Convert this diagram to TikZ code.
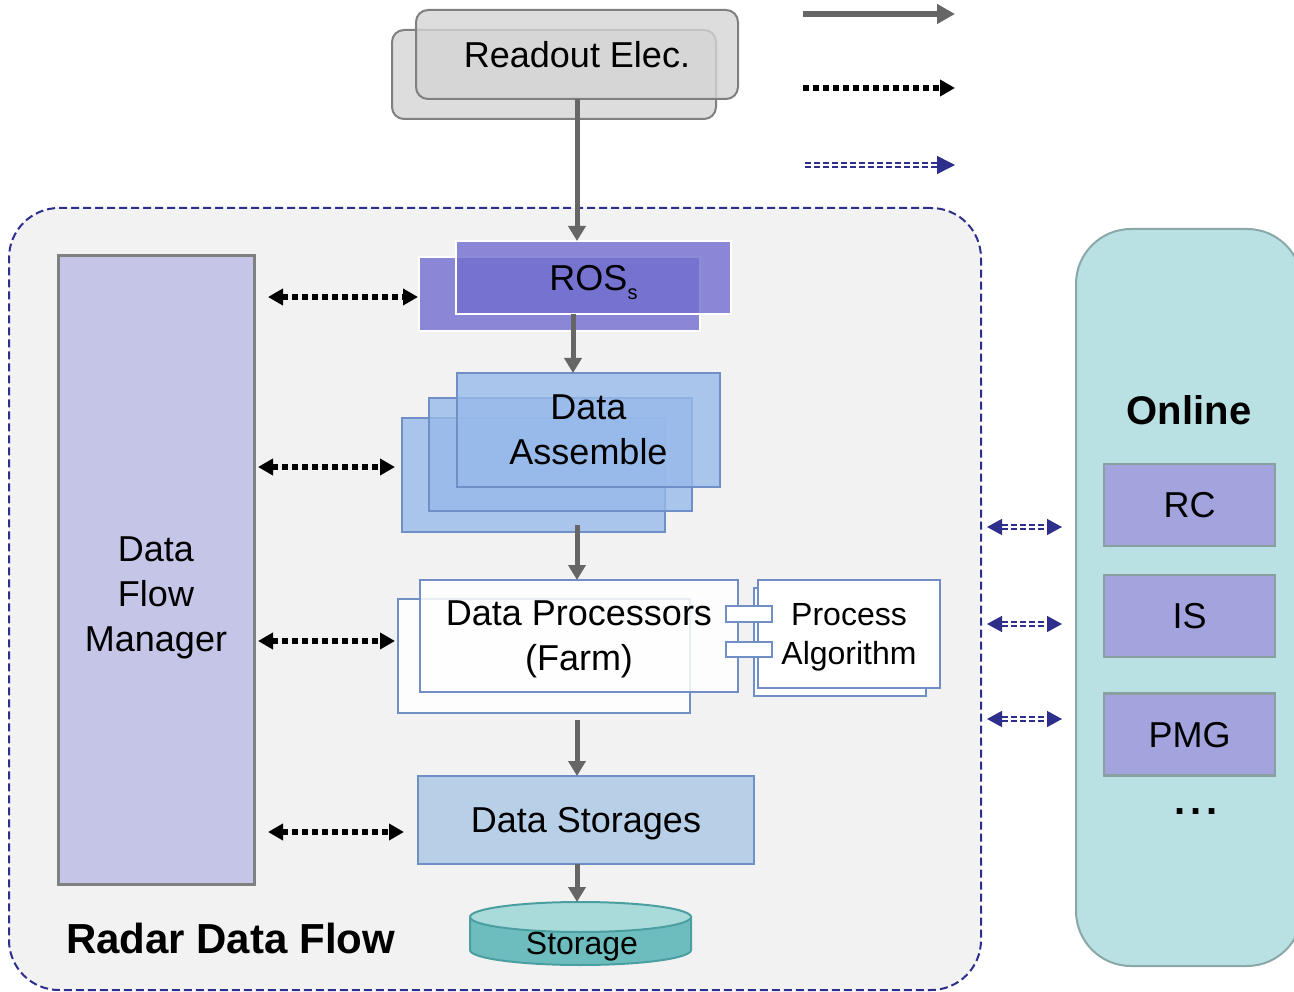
\documentclass[tikz,border=0pt]{standalone}
\usepackage{fontspec}
\setmainfont{Liberation Sans}
\usetikzlibrary{arrows.meta,calc}

\definecolor{navy}{HTML}{2E2E8C}
\definecolor{flowgray}{HTML}{666666}
\definecolor{panelbg}{HTML}{F2F2F2}
\definecolor{rosfill}{HTML}{716ECF}
\definecolor{dafill}{HTML}{98BAEA}
\definecolor{boxedge}{HTML}{6F8FC6}
\definecolor{dfmfill}{HTML}{C5C5E8}
\definecolor{rofill}{HTML}{D4D4D4}
\definecolor{rodraw}{HTML}{808080}
\definecolor{dsfill}{HTML}{B8CFE8}
\definecolor{onlinebg}{HTML}{B9E0E2}
\definecolor{onlineedge}{HTML}{8AA8A8}
\definecolor{onlinebox}{HTML}{A3A3DE}
\definecolor{onlineboxedge}{HTML}{8A9FA0}
\definecolor{cyltop}{HTML}{A9DBDB}
\definecolor{cylbody}{HTML}{6DBDBF}
\definecolor{cyledge}{HTML}{4B9FA0}

\begin{document}
\begin{tikzpicture}[x=1pt, y=-1pt,
  every node/.style={inner sep=0pt, outer sep=0pt},
  txt/.style={font=\fontsize{36}{45}\selectfont, align=center, text=black, text depth=0pt},
  container/.style={draw=navy, fill=panelbg, line width=2pt,
    dash pattern=on 8pt off 4pt, rounded corners=50pt},
  onlinepanel/.style={draw=onlineedge, fill=onlinebg, line width=2pt, rounded corners=55pt},
  obox/.style={txt, draw=onlineboxedge, fill=onlinebox, line width=2.5pt,
    minimum width=171pt, minimum height=82pt},
  dfmbox/.style={draw=rodraw, fill=dfmfill, line width=3pt},
  robox/.style={draw=rodraw, fill=rofill, fill opacity=0.8, text opacity=1,
    line width=2pt, rounded corners=12pt},
  rosbox/.style={draw=white, fill=rosfill, fill opacity=0.8, text opacity=1, line width=2pt},
  dabox/.style={draw=boxedge, fill=dafill, fill opacity=0.8, text opacity=1, line width=2pt},
  dpbox/.style={draw=boxedge, fill=white, fill opacity=0.85, text opacity=1, line width=2pt},
  pabox/.style={draw=boxedge, fill=white, line width=2pt},
  dsbox/.style={draw=boxedge, fill=dsfill, line width=2pt},
  cyl/.style={draw=cyledge, line width=2pt},
  flow/.style={draw=flowgray, line width=5pt, -{Triangle[length=15pt,width=17pt]}},
  flowwide/.style={draw=flowgray, line width=6pt, -{Triangle[length=18pt,width=19pt]}},
  ctrl/.style={draw=black, line width=5.5pt, dash pattern=on 6pt off 4pt,
    >={Triangle[length=15pt,width=16pt]}},
  blink/.style={draw=navy, line width=1.4pt, double=white, double distance=2.4pt,
    dash pattern=on 6pt off 3pt, >={Triangle[length=15pt,width=16pt]}}
]
\useasboundingbox (0,0) rectangle (1294,992);
\clip (0,0) rectangle (1294,992);

% main data-flow frame and the online panel
\node[container, minimum width=972pt, minimum height=782pt] (rdf) at (495,599) {};
\node[onlinepanel, minimum width=226pt, minimum height=737pt] (onl) at (1189,597.5) {};

% online services
\node[txt, font=\fontsize{40}{48}\selectfont\bfseries] (onltitle) at (1189,410) {Online};
\node[obox] (rc) at (1189.5,505) {RC};
\node[obox] (is) at (1189.5,616) {IS};
\node[obox] (pmg) at (1189.5,734.5) {PMG};
\node[txt, font=\fontsize{40}{48}\selectfont\bfseries] (more) at (1196,812) {.\hspace{5pt}.\hspace{5pt}.};

% data flow manager
\node[dfmbox, minimum width=196pt, minimum height=628pt] (dfm) at (156,570) {};
\node[txt] (dfmtext) at (156,594) {Data\\Flow\\Manager};

% readout electronics
\node[robox, minimum width=324pt, minimum height=89pt] (ro2) at (554,74.5) {};
\node[robox, txt, minimum width=322pt, minimum height=89pt] (ro) at (577,54.5) {Readout Elec.};

% readout systems
\node[rosbox, minimum width=281pt, minimum height=74pt] (ros2) at (559.5,294) {};
\node[rosbox, txt, minimum width=275pt, minimum height=73pt] (ros) at (593.5,277.5)
  {ROS\raisebox{-9pt}{\fontsize{20}{20}\selectfont s}};

% data assemble
\node[dabox, minimum width=263pt, minimum height=114pt] (da3) at (533.5,475) {};
\node[dabox, minimum width=263pt, minimum height=113pt] (da2) at (560.5,454.5) {};
\node[dabox, txt, minimum width=263pt, minimum height=114pt] (da) at (588.5,430) {Data\\Assemble};

% processors and algorithm
\node[dpbox, minimum width=292pt, minimum height=114pt] (dp2) at (544,656) {};
\node[dpbox, txt, minimum width=318pt, minimum height=112pt] (dp) at (579,636) {Data Processors\\(Farm)};
\node[pabox, minimum width=172pt, minimum height=108pt] (pa2) at (840,642) {};
\node[pabox, txt, font=\fontsize{32}{39}\selectfont, minimum width=182pt, minimum height=108pt]
  (pa) at (849,634) {Process\\Algorithm};
\node[pabox, minimum width=46pt, minimum height=16pt] (tab1) at (749,614) {};
\node[pabox, minimum width=46pt, minimum height=15pt] (tab2) at (749,649.5) {};

% storages
\node[dsbox, txt, minimum width=336pt, minimum height=88pt] (ds) at (586,820) {Data Storages};
\draw[cyl, fill=cylbody] (470,917) -- (470,950)
  arc[start angle=180, end angle=0, x radius=110.5, y radius=15] -- (691,917) -- cycle;
\draw[cyl, fill=cyltop] (580.5,917) ellipse[x radius=110.5, y radius=15];
\coordinate (stotop) at (580.5,902);
\node[txt, font=\fontsize{32}{38}\selectfont] (sto) at (582,943) {Storage};

\node[txt, font=\fontsize{42}{50}\selectfont\bfseries, anchor=west] (rdftitle) at (66,938) {Radar Data Flow};

% data path
\draw[flow] (ro.south) -- (ro.south |- ros.north);
\draw[flow] ([xshift=-20.5pt]ros.south) -- ([xshift=-20.5pt]ros.south |- da.north);
\draw[flow] ([xshift=43.5pt,yshift=7pt]da3.south) -- ([xshift=43.5pt]da3.south |- dp.north);
\draw[flow] ([xshift=33pt,yshift=-7pt]dp2.south) -- ([xshift=33pt]dp2.south |- ds.north);
\draw[flow] ([xshift=-9pt]ds.south) -- ([xshift=-9pt]ds.south |- stotop);

% control links to the flow manager
\coordinate (c1) at ([yshift=-3pt]ros2.west);
\coordinate (c2) at ([yshift=8pt]da3.west);
\coordinate (c3) at ([yshift=15pt]dp2.west);
\coordinate (c4) at ([yshift=-12pt]ds.west);
\draw[ctrl, <->, shorten <=14pt, shorten >=1pt] (dfm.east |- c1) -- (c1);
\draw[ctrl, <->, shorten <=4pt, shorten >=7pt] (dfm.east |- c2) -- (c2);
\draw[ctrl, <->, shorten <=4pt, shorten >=3pt] (dfm.east |- c3) -- (c3);
\draw[ctrl, <->, shorten <=14pt, shorten >=14pt] (dfm.east |- c4) -- (c4);

% links to the online services
\coordinate (o1) at ([yshift=-22pt]rc.west);
\coordinate (o2) at ([yshift=-8pt]is.west);
\coordinate (o3) at ([yshift=15.5pt]pmg.west);
\draw[blink, <->, shorten <=6pt, shorten >=14pt] (rdf.east |- o1) -- (onl.west |- o1);
\draw[blink, <->, shorten <=6pt, shorten >=14pt] (rdf.east |- o2) -- (onl.west |- o2);
\draw[blink, <->, shorten <=6pt, shorten >=14pt] (rdf.east |- o3) -- (onl.west |- o3);

% key of line styles
\coordinate (k1a) at (803,14);  \coordinate (k1b) at (955,14);
\coordinate (k2a) at (803,88);  \coordinate (k2b) at (955,88);
\coordinate (k3a) at (805,165); \coordinate (k3b) at (955,165);
\draw[flowwide] (k1a) -- (k1b);
\draw[ctrl, ->] (k2a) -- (k2b);
\draw[blink, ->, >={Triangle[length=18pt,width=18pt]}] (k3a) -- (k3b);
\end{tikzpicture}
\end{document}
